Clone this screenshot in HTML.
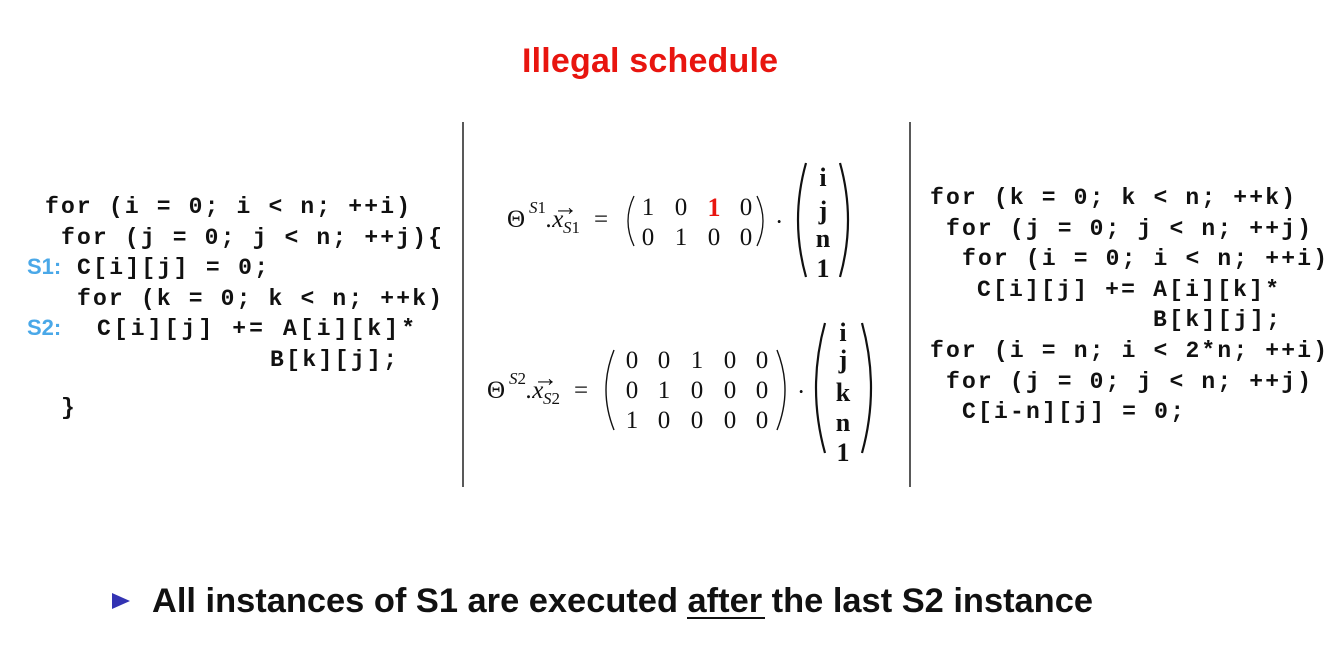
<!DOCTYPE html>
<html><head><meta charset="utf-8"><style>
html,body{margin:0;padding:0;background:#fff;}
svg{display:block}
.m{font-family:"Liberation Mono",monospace;font-weight:bold;font-size:23px;fill:#111;white-space:pre}
.s{font-family:"Liberation Sans",sans-serif;font-weight:bold;font-size:22px;fill:#4aa8e8}
.r{font-family:"Liberation Serif",serif;font-size:25px;fill:#111}
.i{font-family:"Liberation Serif",serif;font-size:25px;font-style:italic;fill:#111}
.sm{font-family:"Liberation Serif",serif;font-size:17px;font-style:italic;fill:#111}
.b{font-family:"Liberation Serif",serif;font-size:26px;font-weight:bold;fill:#111}
</style></head><body>
<svg width="1342" height="661" viewBox="0 0 1342 661" xmlns="http://www.w3.org/2000/svg">
<text x="650" y="72" text-anchor="middle" font-family="Liberation Sans,sans-serif" font-weight="bold" font-size="34" fill="#e8150f" textLength="256">Illegal schedule</text>
<line x1="463" y1="122" x2="463" y2="487" stroke="#222" stroke-width="1.5"/>
<line x1="910" y1="122" x2="910" y2="487" stroke="#222" stroke-width="1.5"/>
<!-- left code -->
<text class="m" x="45" y="213" textLength="365">for (i = 0; i &lt; n; ++i)</text>
<text class="m" x="61" y="244" textLength="381">for (j = 0; j &lt; n; ++j){</text>
<text class="s" x="27" y="274">S1:</text>
<text class="m" x="77" y="274" textLength="191">C[i][j] = 0;</text>
<text class="m" x="77" y="305" textLength="365">for (k = 0; k &lt; n; ++k)</text>
<text class="s" x="27" y="335">S2:</text>
<text class="m" x="97" y="335" textLength="318">C[i][j] += A[i][k]*</text>
<text class="m" x="270" y="366" textLength="127">B[k][j];</text>
<text class="m" x="61" y="414">}</text>
<!-- right code -->
<text class="m" x="930" y="204" textLength="365">for (k = 0; k &lt; n; ++k)</text>
<text class="m" x="946" y="235" textLength="365">for (j = 0; j &lt; n; ++j)</text>
<text class="m" x="962" y="265" textLength="365">for (i = 0; i &lt; n; ++i)</text>
<text class="m" x="977" y="296" textLength="302">C[i][j] += A[i][k]*</text>
<text class="m" x="1153" y="326" textLength="127">B[k][j];</text>
<text class="m" x="930" y="357" textLength="397">for (i = n; i &lt; 2*n; ++i)</text>
<text class="m" x="946" y="388" textLength="365">for (j = 0; j &lt; n; ++j)</text>
<text class="m" x="962" y="418" textLength="222">C[i-n][j] = 0;</text>
<!-- eq 1 -->
<text class="r" x="507" y="227">Θ</text>
<text class="sm" x="529" y="213">S<tspan font-style="normal">1</tspan></text>
<text class="i" x="546" y="227">.x</text>
<text class="r" x="553" y="215" font-size="18">→</text>
<text class="sm" x="563" y="233">S<tspan font-style="normal">1</tspan></text>
<text class="r" x="594" y="227">=</text>
<path d="M634 196 Q622 221 634 246" fill="none" stroke="#111" stroke-width="1.3"/>
<path d="M757 196 Q769 221 757 246" fill="none" stroke="#111" stroke-width="1.3"/>
<g class="r" text-anchor="middle">
<text x="648" y="215">1</text><text x="681" y="215">0</text><text x="714" y="216" class="b" style="fill:#e8150f">1</text><text x="746" y="215">0</text>
<text x="648" y="245">0</text><text x="681" y="245">1</text><text x="714" y="245">0</text><text x="746" y="245">0</text>
</g>
<text class="r" x="775" y="230">·</text>
<path d="M806 163 Q790 220 806 277" fill="none" stroke="#111" stroke-width="2.2"/>
<path d="M840 163 Q856 220 840 277" fill="none" stroke="#111" stroke-width="2.2"/>
<g class="b" text-anchor="middle">
<text x="823" y="186">i</text><text x="823" y="219">j</text><text x="823" y="247">n</text><text x="823" y="277">1</text>
</g>
<!-- eq 2 -->
<text class="r" x="487" y="398">Θ</text>
<text class="sm" x="509" y="384">S<tspan font-style="normal">2</tspan></text>
<text class="i" x="526" y="398">.x</text>
<text class="r" x="533" y="386" font-size="18">→</text>
<text class="sm" x="543" y="404">S<tspan font-style="normal">2</tspan></text>
<text class="r" x="574" y="398">=</text>
<path d="M614 350 Q598 390 614 430" fill="none" stroke="#111" stroke-width="1.4"/>
<path d="M777 350 Q793 390 777 430" fill="none" stroke="#111" stroke-width="1.4"/>
<g class="r" text-anchor="middle">
<text x="632" y="368">0</text><text x="664" y="368">0</text><text x="697" y="368">1</text><text x="730" y="368">0</text><text x="762" y="368">0</text>
<text x="632" y="398">0</text><text x="664" y="398">1</text><text x="697" y="398">0</text><text x="730" y="398">0</text><text x="762" y="398">0</text>
<text x="632" y="428">1</text><text x="664" y="428">0</text><text x="697" y="428">0</text><text x="730" y="428">0</text><text x="762" y="428">0</text>
</g>
<text class="r" x="797" y="400">·</text>
<path d="M825 323 Q807 388 825 453" fill="none" stroke="#111" stroke-width="2.2"/>
<path d="M862 323 Q880 388 862 453" fill="none" stroke="#111" stroke-width="2.2"/>
<g class="b" text-anchor="middle">
<text x="843" y="341">i</text><text x="843" y="368">j</text><text x="843" y="401">k</text><text x="843" y="431">n</text><text x="843" y="461">1</text>
</g>
<!-- bottom -->
<polygon points="112,593 130,601 112,609" fill="#3333b3"/>
<text x="152" y="612" font-family="Liberation Sans,sans-serif" font-weight="bold" font-size="34" fill="#111" textLength="941" lengthAdjust="spacingAndGlyphs">All instances of S1 are executed after the last S2 instance</text>
<line x1="687" y1="618" x2="765" y2="618" stroke="#111" stroke-width="2"/>
</svg>
</body></html>
